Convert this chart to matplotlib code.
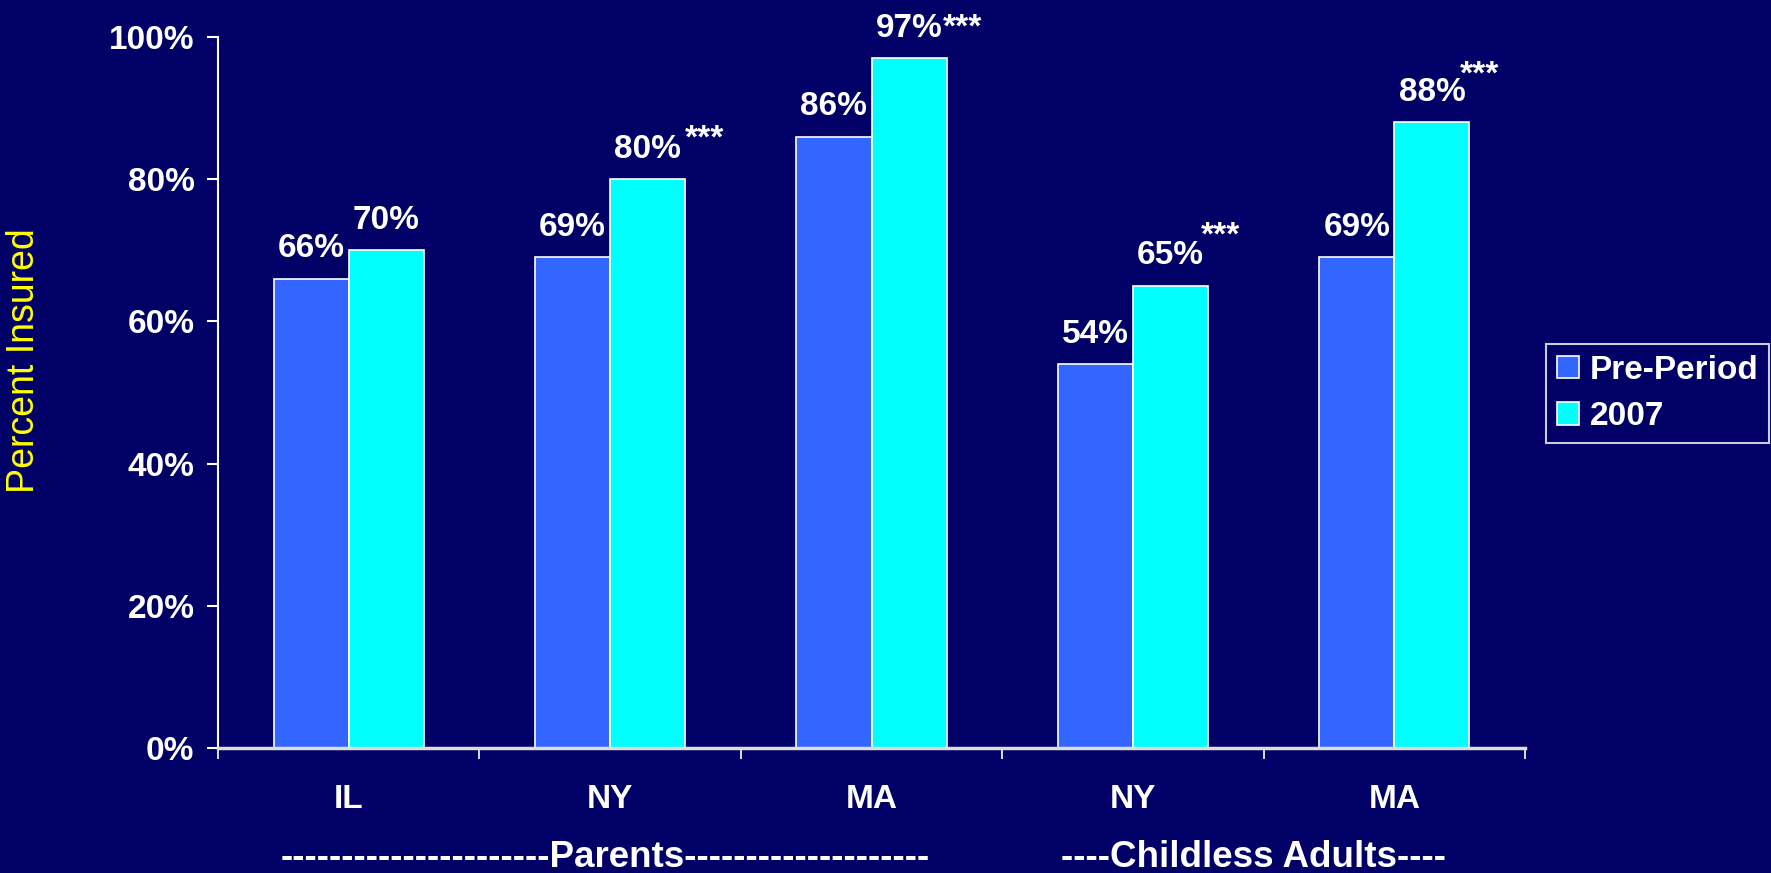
import matplotlib
matplotlib.use("Agg")
import matplotlib.pyplot as plt
import numpy as np
from matplotlib.transforms import blended_transform_factory

plt.rcParams['font.family'] = ['Liberation Sans', 'DejaVu Sans']

categories = ["IL", "NY", "MA", "NY", "MA"]
groups = ["----------------------Parents--------------------", "----Childless Adults----"]
series_names = ["Pre-Period", "2007"]
pre_period = [66, 69, 86, 54, 69]
y2007 = [70, 80, 97, 65, 88]
significance = ["", "***", "***", "***", "***"]
yticks = [0, 20, 40, 60, 80, 100]

BG = "#000066"
C_PRE = "#3366FF"
C_2007 = "#00FFFF"
FS = 24

fig = plt.figure(figsize=(17.71, 8.73), dpi=100, facecolor=BG)
ax = fig.add_axes([218/1771, 1-748/873, (1525-218)/1771, (748-37)/873])
ax.set_facecolor(BG)

x = np.arange(len(categories))
w = 0.2875
b1 = ax.bar(x - w/2, pre_period, w, color=C_PRE, edgecolor="white", linewidth=1.2, label=series_names[0])
b2 = ax.bar(x + w/2, y2007, w, color=C_2007, edgecolor="white", linewidth=1.2, label=series_names[1])

ax.set_xlim(-0.5, len(categories) - 0.5)
ax.set_ylim(0, 100)

for s in ["top", "right"]:
    ax.spines[s].set_visible(False)
ax.spines["left"].set_color("white")
ax.spines["bottom"].set_color("#DDDDDD")
ax.spines["left"].set_linewidth(1.5)
ax.spines["bottom"].set_linewidth(2.5)

ax.set_yticks(yticks)
ax.set_yticklabels([f"{v}%" for v in yticks], fontsize=FS, fontweight="bold", color="white")
ax.tick_params(axis="y", colors="white", length=8, width=1.5, pad=9)
ax.set_xticks(np.arange(-0.5, len(categories), 1.0))
ax.set_xticklabels([])
ax.tick_params(axis="x", colors="white", length=8, width=1.2, direction="out")

ax.set_ylabel("Percent Insured", color="#FFFF00", fontsize=27, labelpad=0)
ax.yaxis.set_label_coords((42-218)/1307, (748-361)/711)

tr = blended_transform_factory(ax.transData, fig.transFigure)
for i, c in enumerate(categories):
    ax.text(i, 1-808/873, c, transform=tr, ha="center", va="baseline",
            fontsize=FS, fontweight="bold", color="white")
ax.text(0.98, 1-867/873, groups[0], transform=tr, ha="center", va="baseline",
        fontsize=26.5, fontweight="bold", color="white")
ax.text(3.46, 1-867/873, groups[1], transform=tr, ha="center", va="baseline",
        fontsize=26.5, fontweight="bold", color="white")

# value labels
star_offsets = [(0, 0), (2.9, 7.5), (0, 0), (-2.5, 14), (-4, 12.5)]
for i in range(len(categories)):
    ax.annotate(f"{pre_period[i]}%", (x[i] - w/2, pre_period[i]), xytext=(0, 15.5),
                textcoords="offset points", ha="center", va="baseline",
                fontsize=FS, fontweight="bold", color="white")
    t = ax.annotate(f"{y2007[i]}%", (x[i] + w/2, y2007[i]), xytext=(0, 15.5),
                    textcoords="offset points", ha="center", va="baseline",
                    fontsize=FS, fontweight="bold", color="white")
    if significance[i]:
        dx, dy = star_offsets[i]
        ax.annotate(significance[i], xy=(1, 1), xycoords=t, xytext=(dx, dy),
                    textcoords="offset points", ha="left", va="top",
                    fontsize=FS, fontweight="bold", color="white")

leg = fig.legend(handles=[b1, b2], labels=series_names, loc="upper left",
                 bbox_to_anchor=(1546/1771, 1-344/873), frameon=True,
                 fontsize=FS, handlelength=0.66, handleheight=0.66,
                 handletextpad=0.34, borderpad=0.32, labelspacing=0.47,
                 borderaxespad=0, fancybox=False)
leg.get_frame().set_facecolor(BG)
leg.get_frame().set_edgecolor("white")
leg.get_frame().set_linewidth(1.5)
for txt in leg.get_texts():
    txt.set_color("white")
    txt.set_fontweight("bold")

fig.savefig("out.png", dpi=100, facecolor=BG)
